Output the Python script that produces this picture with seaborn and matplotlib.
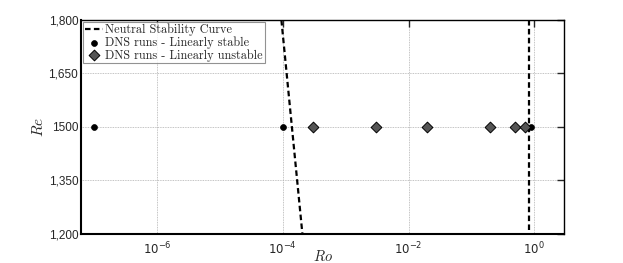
import numpy as np
import pandas as pd
import matplotlib
matplotlib.use("Agg")
import matplotlib.pyplot as plt
import seaborn as sns

# neutral stability curve (two branches inside the view)
neutral_left_ro = [9.5e-5, 2.05e-4]
neutral_left_re = [1800, 1200]
neutral_right_ro = [0.82, 0.82]
neutral_right_re = [1800, 1200]

# DNS runs
stable_ro = [1e-7, 1e-4, 0.9]
stable_re = [1500, 1500, 1500]
unstable_ro = [3e-4, 3e-3, 2e-2, 0.2, 0.5, 0.7]
unstable_re = [1500, 1500, 1500, 1500, 1500, 1500]

ytick_vals = [1200, 1350, 1500, 1650, 1800]
ytick_labels = ["1,200", "1,350", "1500", "1,650", "1,800"]
xtick_vals = [1e-6, 1e-4, 1e-2, 1e0]

sns.set_style("white")
plt.rcParams["font.family"] = ["Liberation Sans", "DejaVu Sans"]
plt.rcParams["mathtext.fontset"] = "cm"

fig = plt.figure(figsize=(6.23, 2.63), dpi=100)
ax = fig.add_axes([0.130, 0.111, 0.776, 0.813])

sns.lineplot(x=neutral_left_ro, y=neutral_left_re, ax=ax, color="black",
             linestyle=(0, (2.5, 1.5)), linewidth=1.6, sort=False,
             estimator=None, label="Neutral Stability Curve")
sns.lineplot(x=neutral_right_ro, y=neutral_right_re, ax=ax, color="black",
             linestyle=(0, (2.5, 1.5)), linewidth=1.6, sort=False,
             estimator=None, legend=False)

stable = pd.DataFrame({"Ro": stable_ro, "Re": stable_re})
unstable = pd.DataFrame({"Ro": unstable_ro, "Re": unstable_re})
sns.scatterplot(data=stable, x="Ro", y="Re", ax=ax, color="black",
                marker="o", s=18, edgecolor="black", linewidth=0.5,
                label="DNS runs - Linearly stable", zorder=4)
sns.scatterplot(data=unstable, x="Ro", y="Re", ax=ax, color="#555555",
                marker="D", s=30, edgecolor="black", linewidth=0.7,
                label="DNS runs - Linearly unstable", zorder=4)

ax.set_xscale("log")
ax.set_xlim(10 ** -7.21, 10 ** 0.48)
ax.set_ylim(1200, 1800)
ax.set_xticks(xtick_vals)
ax.set_xticklabels(["$10^{-6}$", "$10^{-4}$", "$10^{-2}$", "$10^{0}$"])
ax.xaxis.set_minor_locator(matplotlib.ticker.NullLocator())
ax.set_yticks(ytick_vals)
ax.set_yticklabels(ytick_labels)
ax.tick_params(axis="both", direction="in", length=5, width=1.0,
               top=True, right=True, labelsize=8.5, pad=2)
ax.tick_params(axis="x", labelsize=8.5, pad=5)
for lab in ax.get_xticklabels():
    lab.set_math_fontfamily("dejavusans")

ax.grid(True, which="major", color="#b0b0b0", linestyle=(0, (1, 1)),
        linewidth=0.6)
for side in ["left", "bottom"]:
    ax.spines[side].set_linewidth(1.5)
for side in ["top", "right"]:
    ax.spines[side].set_linewidth(1.0)
for sp in ax.spines.values():
    sp.set_color("black")

ax.set_xlabel("$Ro$", fontsize=10.5)
ax.xaxis.set_label_coords(0.5, -0.07)
ax.set_ylabel("$Re$", fontsize=11, labelpad=2)

leg = ax.legend(loc="upper left", fancybox=False, frameon=True,
                borderaxespad=0.15, borderpad=0.15, handlelength=1.5,
                handletextpad=0.2, labelspacing=0.0,
                prop={"family": "cmr10", "size": 8.8})
leg.get_frame().set_edgecolor("#777777")
leg.get_frame().set_linewidth(0.8)

fig.savefig("out.png", dpi=100)
